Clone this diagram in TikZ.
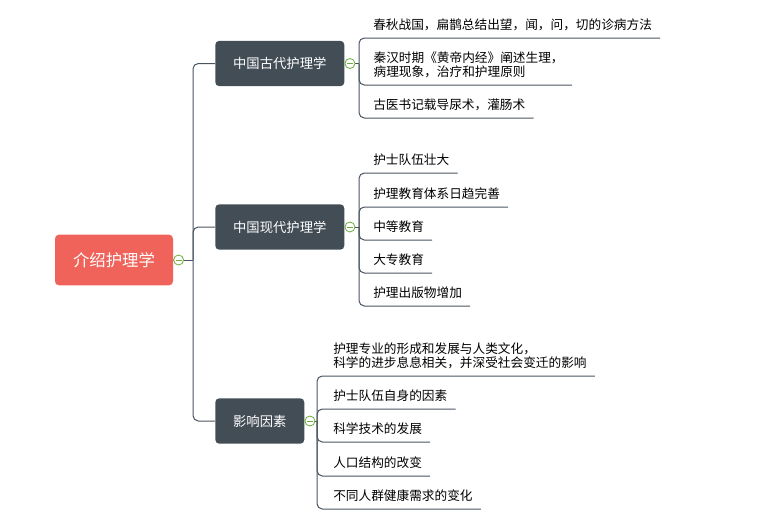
\documentclass[tikz,border=0pt]{standalone}
\usepackage{fontspec}
\setmainfont{Noto Sans CJK SC}
\definecolor{rootred}{HTML}{F0635A}
\definecolor{topicdark}{HTML}{434D56}
\definecolor{linegray}{HTML}{4B555F}
\definecolor{foldgreen}{HTML}{6CAC3E}
\begin{document}
\begin{tikzpicture}[
        x=0.75pt, y=-0.75pt,
        link/.style={draw=linegray, line width=0.75pt, rounded corners=4pt},
        root/.style={rectangle, rounded corners=3pt, fill=rootred, text=white, minimum height=38pt, inner xsep=13.5pt, font=\fontsize{12.3}{14}\selectfont},
        topic/.style={rectangle, rounded corners=3pt, fill=topicdark, text=white, minimum height=34pt, inner xsep=13.4pt, anchor=west, font=\fontsize{10}{12}\selectfont},
        leaf/.style={anchor=south west, inner xsep=6pt, inner ysep=5pt, text depth=1pt, align=left, font=\fontsize{9.5}{10.5}\selectfont},
        fold/.style={circle, draw=foldgreen, fill=white, line width=0.6pt, minimum size=7.5pt, inner sep=0pt,
            path picture={\draw[foldgreen, line width=0.6pt] ([xshift=-2.2pt]path picture bounding box.center) -- ([xshift=2.2pt]path picture bounding box.center);}}
    ]
        \useasboundingbox (0,0) rectangle (760,529);

        % 中心主题
        \node[root] (intro) at (114,260) {介绍护理学};

        % 分支主题
        \node[topic] (ancient) at (215,63.5) {中国古代护理学};
        \node[topic] (modern) at (215,227) {中国现代护理学};
        \node[topic] (factor) at (215,421) {影响因素};

        % 分叉点
        \coordinate (j0) at (193,260);
        \coordinate (j1) at (359,63.5);
        \coordinate (j2) at (359,227);
        \coordinate (j3) at (317,421);

        \draw[link] (intro.east) -- (j0);
        \draw[link] (j0) |- (ancient.west);
        \draw[link] (j0) |- (modern.west);
        \draw[link] (j0) |- (factor.west);
        \draw[link] (ancient.east) -- (j1);
        \draw[link] (modern.east) -- (j2);
        \draw[link] (factor.east) -- (j3);

        % 中国古代护理学
        \node[leaf] (a1) at (365,38) {春秋战国，扁鹊总结出望，闻，问，切的诊病方法};
        \node[leaf, minimum width=155pt] (a2) at (365,85) {秦汉时期《黄帝内经》阐述生理，\\病理现象，治疗和护理原则};
        \node[leaf] (a3) at (365,118) {古医书记载导尿术，灌肠术};
        \draw[link] (j1) |- (a1.south east);
        \draw[link] (j1) |- (a2.south east);
        \draw[link] (j1) |- (a3.south east);

        % 中国现代护理学
        \node[leaf] (m1) at (365,173) {护士队伍壮大};
        \node[leaf] (m2) at (365,207) {护理教育体系日趋完善};
        \node[leaf] (m3) at (365,240) {中等教育};
        \node[leaf] (m4) at (365,273) {大专教育};
        \node[leaf] (m5) at (365,306) {护理出版物增加};
        \draw[link] (j2) |- (m1.south east);
        \draw[link] (j2) |- (m2.south east);
        \draw[link] (j2) |- (m3.south east);
        \draw[link] (j2) |- (m4.south east);
        \draw[link] (j2) |- (m5.south east);

        % 影响因素
        \node[leaf] (f1) at (325,376) {护理专业的形成和发展与人类文化，\\科学的进步息息相关，并深受社会变迁的影响};
        \node[leaf] (f2) at (325,409) {护士队伍自身的因素};
        \node[leaf] (f3) at (325,442) {科学技术的发展};
        \node[leaf] (f4) at (325,476) {人口结构的改变};
        \node[leaf] (f5) at (325,509) {不同人群健康需求的变化};
        \draw[link] (j3) |- (f1.south east);
        \draw[link] (j3) |- (f2.south east);
        \draw[link] (j3) |- (f3.south east);
        \draw[link] (j3) |- (f4.south east);
        \draw[link] (j3) |- (f5.south east);

        % 折叠按钮
        \node[fold] (c0) at ([xshift=4pt]intro.east) {};
        \node[fold] (c1) at ([xshift=4pt]ancient.east) {};
        \node[fold] (c2) at ([xshift=4pt]modern.east) {};
        \node[fold] (c3) at ([xshift=4pt]factor.east) {};

    \end{tikzpicture}
\end{document}
